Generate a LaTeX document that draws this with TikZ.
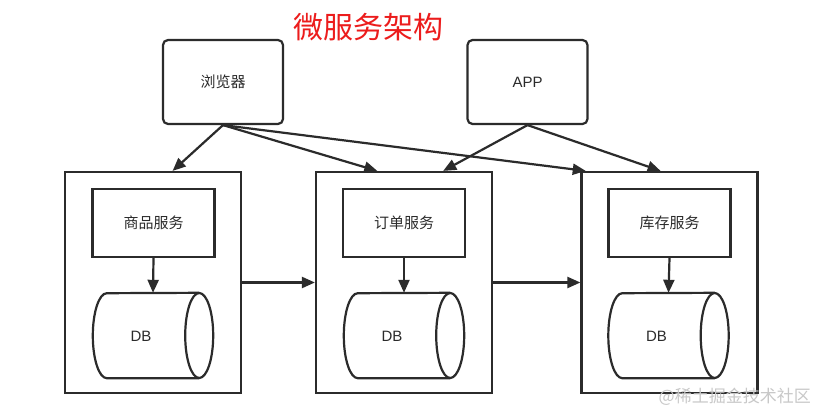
\documentclass[tikz,border=0pt]{standalone}
\usepackage{fontspec}
\setmainfont{Liberation Sans}
\newfontfamily\cjk{Noto Sans CJK SC}
\usetikzlibrary{arrows.meta,calc}
\definecolor{ink}{HTML}{2B2B2B}
\definecolor{titlered}{RGB}{236,28,28}
\definecolor{wmark}{RGB}{200,200,200}
\begin{document}
\begin{tikzpicture}[x=1pt,y=1pt,
  line/.style={draw=ink, line width=2.2pt},
  conn/.style={draw=ink, line width=2.2pt, -{Triangle[length=13pt,width=11pt]}},
  txt/.style={text=ink, font=\cjk\fontsize{15}{18}\selectfont, inner sep=0pt},
  client/.style={line, txt, rounded corners=5pt, minimum width=120, minimum height=84},
  outer/.style={line, minimum width=176, minimum height=221, inner sep=0pt},
  svc/.style={line, txt, minimum width=122, minimum height=68},
  dbbody/.style={minimum width=120, minimum height=85, inner sep=0pt},
  dbtext/.style={text=ink, font=\fontsize{15}{18}\selectfont, inner sep=0pt}
]
\useasboundingbox (0,0) rectangle (816,413);
\fill[white] (0,0) rectangle (816,413);

% title
\node[text=titlered, font=\cjk\fontsize{30}{34}\selectfont, inner sep=0pt] (title) at (368,386) {微服务架构};

% clients
\node[client] (br) at (223,331) {浏览器};
\node[client, font=\fontsize{15}{18}\selectfont] (app) at (527.5,331) {APP};

% outer boxes
\node[outer] (b1) at (153,130.5) {};
\node[outer] (b2) at (404,130.5) {};
\node[outer] (b3) at (669.5,130.5) {};

% services
\node[svc] (s1) at (153.5,190) {商品服务};
\node[svc] (s2) at (404,190) {订单服务};
\node[svc] (s3) at (669.5,190) {库存服务};

% databases
\foreach \n/\x in {c1/153, c2/404, c3/668.5}{
  \node[dbbody] (\n) at (\x,77.5) {};
  \draw[line] ([xshift=-14]\n.south east) -- ([xshift=14]\n.south west)
     arc[start angle=270, end angle=90, x radius=14, y radius=42.5]
     -- ([xshift=-14]\n.north east);
  \draw[line] ([xshift=-14]\n.east) ellipse[x radius=14, y radius=42.5];
}
\node[dbtext] (d1) at ($(c1.center)+(-12,-1)$) {DB};
\node[dbtext] (d2) at ($(c2.center)+(-12,-1)$) {DB};
\node[dbtext] (d3) at ($(c3.center)+(-12,-1)$) {DB};

% connectors
\draw[conn] (s1.south) -- (c1.north);
\draw[conn] (s2.south) -- (c2.north);
\draw[conn] (s3.south) -- (c3.north);
\draw[conn] (b1.east) -- (b2.west);
\draw[conn] (b2.east) -- (b3.west);

\draw[conn] (br.south) -- ($(b1.north west)!0.61!(b1.north east)$);
\draw[conn] (br.south) -- ($(b2.north west)!0.35!(b2.north east)$);
\draw[conn] (br.south) -- ($(b3.north west)!0.03!(b3.north east)$);
\draw[conn] (app.south) -- ($(b2.north west)!0.72!(b2.north east)$);
\draw[conn] (app.south) -- ($(b3.north west)!0.45!(b3.north east)$);

% watermark
\node[text=wmark, font=\cjk\fontsize{17}{20}\selectfont, inner sep=0pt, anchor=east] (wm) at (811,16) {@稀土掘金技术社区};
\end{tikzpicture}
\end{document}
